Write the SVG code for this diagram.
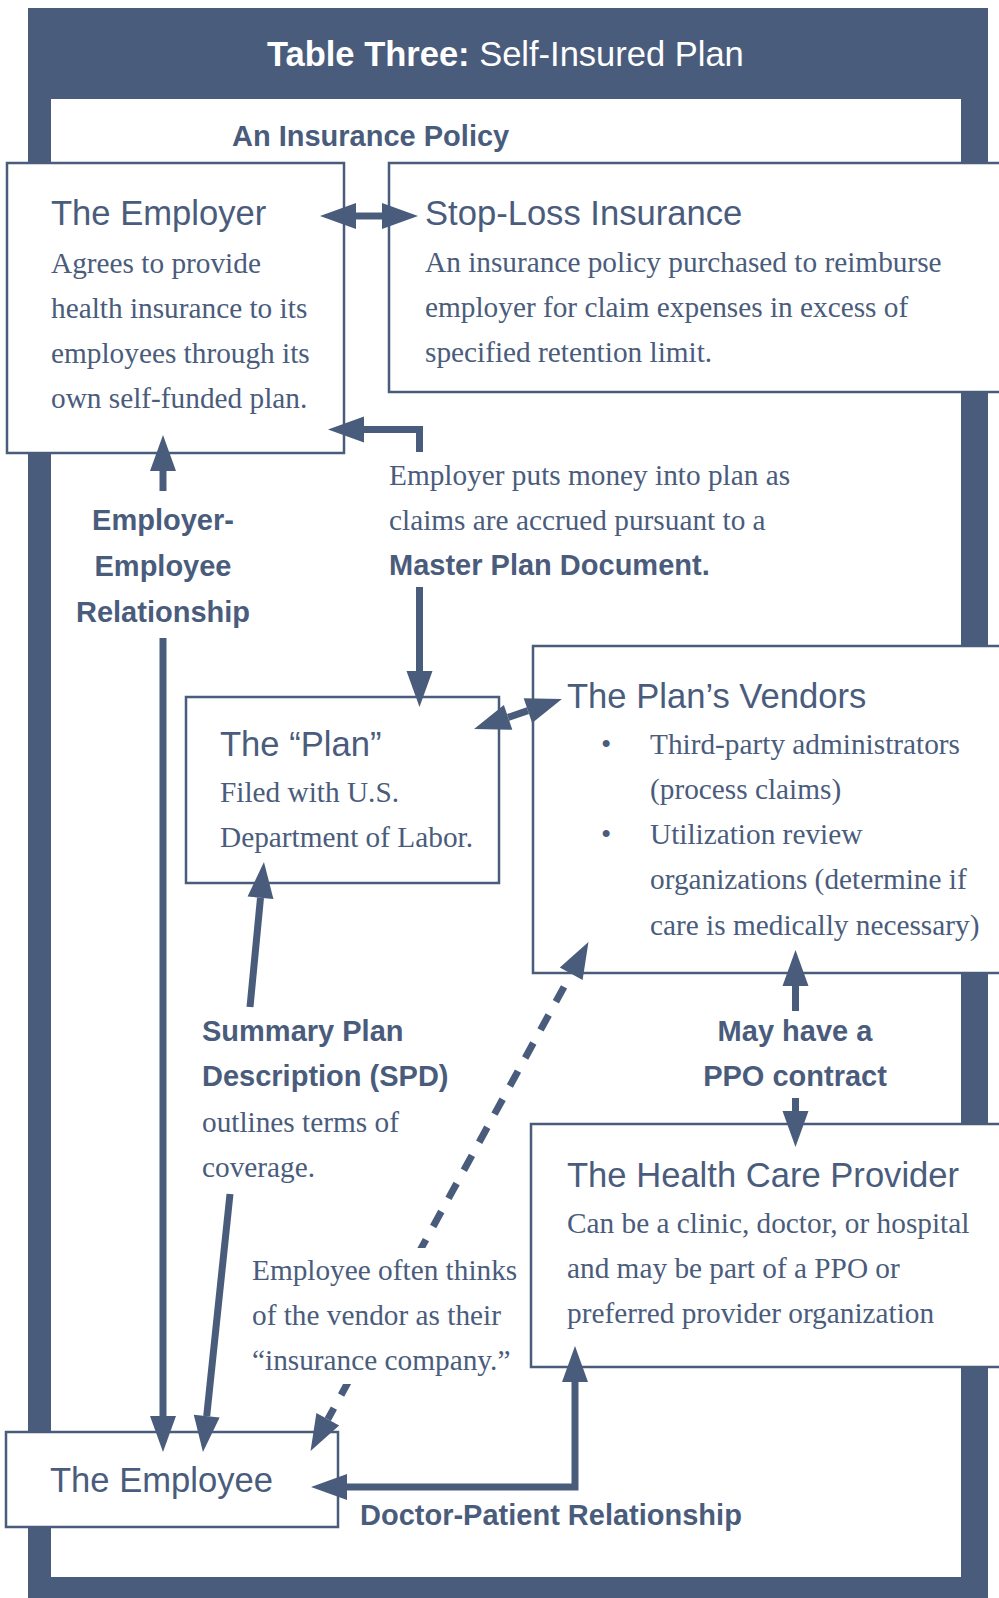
<svg xmlns="http://www.w3.org/2000/svg" width="999" height="1598" viewBox="0 0 999 1598">
<defs>
<style>
.box{fill:#fff;stroke:#4a5c7c;stroke-width:2.5}
.h{font-family:"Liberation Sans",Arial,sans-serif;font-size:34.6px;fill:#4a5c7c}
.b{font-family:"Liberation Serif","Times New Roman",serif;font-size:29.3px;fill:#4a5c7c}
.lb{font-family:"Liberation Sans",Arial,sans-serif;font-size:29px;font-weight:bold;fill:#4a5c7c}
.c{fill:none;stroke:#4a5c7c;stroke-width:7}
.arr{marker-end:url(#ah)}
.dbl{marker-start:url(#ah);marker-end:url(#ah)}
.dash{stroke-dasharray:17 15;stroke-dashoffset:17}
</style>
<marker id="ah" markerUnits="userSpaceOnUse" markerWidth="36" markerHeight="26" viewBox="0 -13 36 26" refX="0" refY="0" orient="auto-start-reverse" overflow="visible">
<path d="M0,-13 L36,0 L0,13 Z" fill="#4a5c7c"/>
</marker>
</defs>

<g id="frame">
<rect x="28" y="8" width="960" height="1600" fill="#4a5c7c"/>
<rect x="51" y="99" width="910" height="1478" fill="#fff"/>
<text x="267" y="66" font-family="'Liberation Sans',Arial,sans-serif" font-size="34.5" fill="#fff"><tspan font-weight="bold">Table Three:</tspan> Self-Insured Plan</text>
<text class="lb" x="232" y="146">An Insurance Policy</text>
</g>

<g id="employer">
<rect class="box" x="7" y="163" width="337" height="290"/>
<text class="h" x="51" y="225">The Employer</text>
<text class="b" x="51" y="273">Agrees to provide</text>
<text class="b" x="51" y="318">health insurance to its</text>
<text class="b" x="51" y="363">employees through its</text>
<text class="b" x="51" y="408">own self-funded plan.</text>
</g>

<g id="stoploss">
<rect class="box" x="389" y="163" width="630" height="229"/>
<text class="h" x="425" y="225">Stop-Loss Insurance</text>
<text class="b" x="425" y="272">An insurance policy purchased to reimburse</text>
<text class="b" x="425" y="317">employer for claim expenses in excess of</text>
<text class="b" x="425" y="362">specified retention limit.</text>
</g>

<g id="plan">
<rect class="box" x="186" y="697" width="313" height="186"/>
<text class="h" x="220" y="756">The “Plan”</text>
<text class="b" x="220" y="802">Filed with U.S.</text>
<text class="b" x="220" y="847">Department of Labor.</text>
</g>

<g id="vendors">
<rect class="box" x="533" y="646" width="490" height="327"/>
<text class="h" x="567" y="708">The Plan’s Vendors</text>
<text class="b" x="601" y="754">•</text>
<text class="b" x="650" y="754">Third-party administrators</text>
<text class="b" x="650" y="799">(process claims)</text>
<text class="b" x="601" y="844">•</text>
<text class="b" x="650" y="844">Utilization review</text>
<text class="b" x="650" y="889">organizations (determine if</text>
<text class="b" x="650" y="935">care is medically necessary)</text>
</g>

<g id="provider">
<rect class="box" x="531" y="1124" width="490" height="243"/>
<text class="h" x="567" y="1187">The Health Care Provider</text>
<text class="b" x="567" y="1233">Can be a clinic, doctor, or hospital</text>
<text class="b" x="567" y="1278">and may be part of a PPO or</text>
<text class="b" x="567" y="1323">preferred provider organization</text>
</g>

<g id="employee">
<rect class="box" x="6" y="1432" width="332" height="95"/>
<text class="h" x="50" y="1492">The Employee</text>
</g>

<g id="connectors">
<path class="c dbl" d="M356,216 H382"/>
<path class="c arr" d="M419.5,452 V429.5 H364"/>
<path class="c arr" d="M419.5,587 V671"/>
<path class="c arr" d="M163,491 V471"/>
<path class="c arr" d="M163,638 V1416"/>
<path class="c dbl" d="M508.1,717.4 L527.9,710.6"/>
<path class="c arr" d="M250,1007 L260.5,897.8"/>
<path class="c arr" d="M230,1194 L206.7,1416.2"/>
<path class="c dbl dash" d="M571.2,973.7 L327.8,1419.3"/>
<path class="c arr" d="M795.5,1011 V986"/>
<path class="c arr" d="M795.5,1098 V1111"/>
<path class="c dbl" d="M347,1487 H575 V1382"/>
</g>

<g id="labels">
<text class="lb" text-anchor="middle" x="163" y="530">Employer-</text>
<text class="lb" text-anchor="middle" x="163" y="576">Employee</text>
<text class="lb" text-anchor="middle" x="163" y="622">Relationship</text>
<text class="b" x="389" y="485">Employer puts money into plan as</text>
<text class="b" x="389" y="530">claims are accrued pursuant to a</text>
<text class="lb" x="389" y="575">Master Plan Document.</text>
<text class="lb" x="202" y="1041">Summary Plan</text>
<text class="lb" x="202" y="1086">Description (SPD)</text>
<text class="b" x="202" y="1132">outlines terms of</text>
<text class="b" x="202" y="1177">coverage.</text>
<text class="lb" text-anchor="middle" x="795" y="1041">May have a</text>
<text class="lb" text-anchor="middle" x="795" y="1086">PPO contract</text>
<rect x="245" y="1248" width="283" height="136" fill="#fff"/>
<text class="b" x="252" y="1280">Employee often thinks</text>
<text class="b" x="252" y="1325">of the vendor as their</text>
<text class="b" x="252" y="1370">“insurance company.”</text>
<text class="lb" x="360" y="1525">Doctor-Patient Relationship</text>
</g>
</svg>
